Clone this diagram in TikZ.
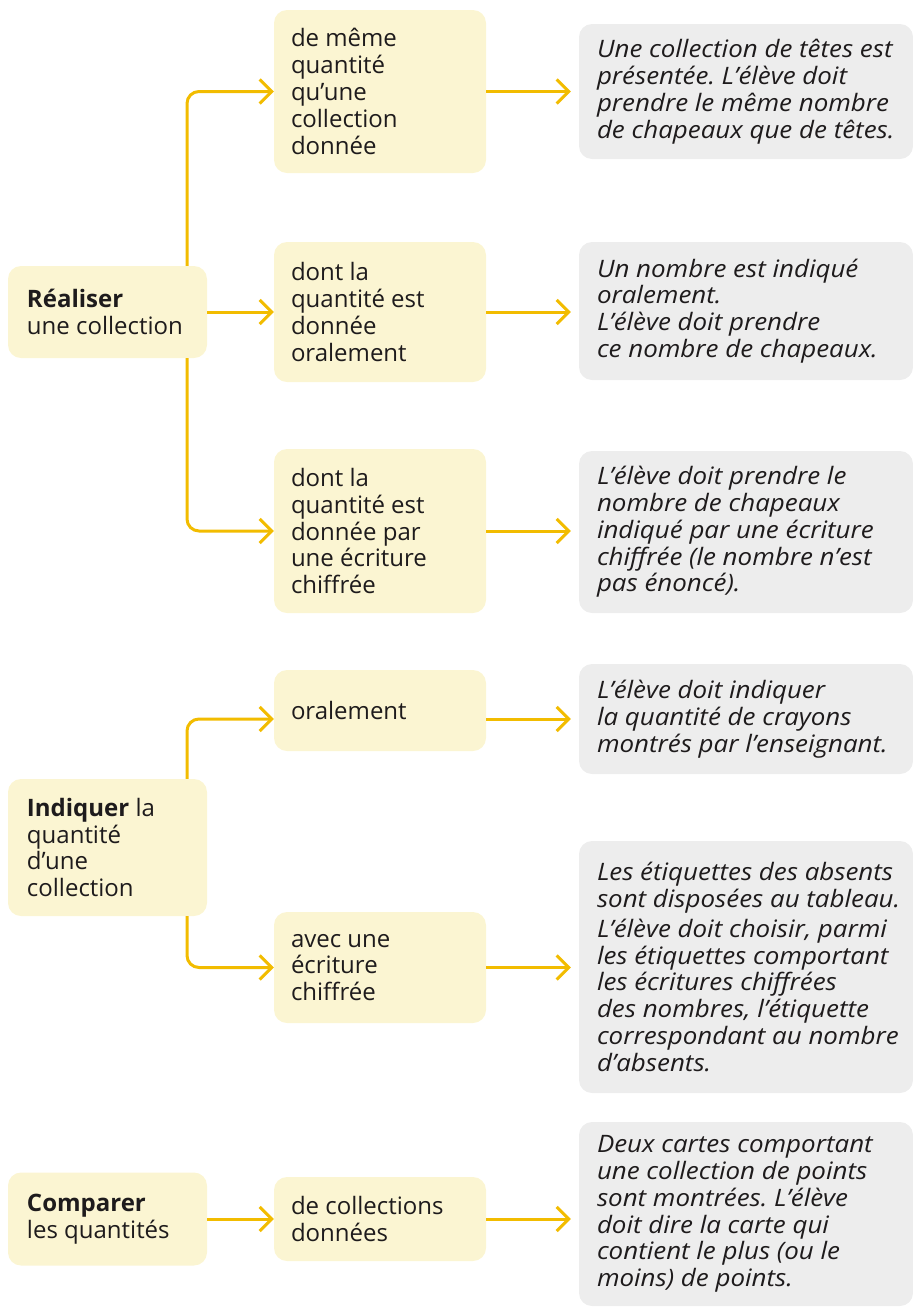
\documentclass[tikz,border=0pt]{standalone}
\usepackage{fontspec}
\setmainfont{Open Sans}[ItalicFeatures={FakeStretch=1.08}]
\frenchspacing
\usetikzlibrary{arrows.meta}
\definecolor{cream}{RGB}{251,245,210}
\definecolor{lgray}{RGB}{237,237,237}
\definecolor{gold}{RGB}{242,188,0}
\definecolor{ink}{RGB}{30,27,28}
\begin{document}
\begin{tikzpicture}[x=1pt,y=-1pt,
  ybox/.style={fill=cream, rounded corners=13pt, inner sep=0pt},
  gbox/.style={fill=lgray, rounded corners=13pt, inner sep=0pt},
  txt/.style={anchor=west, align=left, inner sep=0pt, text=ink, font=\fontsize{24}{26.8}\selectfont},
  itxt/.style={txt, font=\fontsize{24}{26.8}\selectfont\itshape},
  conn/.style={draw=gold, line width=3pt, rounded corners=12pt, -{Straight Barb[length=12pt,width=24pt]}},
]
\useasboundingbox (0,0) rectangle (913,1310);

% boxes
\node[ybox, minimum width=199pt, minimum height=92pt] (L1) at (107.5,312) {};
\node[ybox, minimum width=212pt, minimum height=163pt] (M1) at (380,91.5) {};
\node[gbox, minimum width=334pt, minimum height=135pt] (G1) at (746,91.5) {};
\node[ybox, minimum width=212pt, minimum height=140pt] (M2) at (380,312) {};
\node[gbox, minimum width=334pt, minimum height=138pt] (G2) at (746,311) {};
\node[ybox, minimum width=212pt, minimum height=164pt] (M3) at (380,531) {};
\node[gbox, minimum width=334pt, minimum height=162pt] (G3) at (746,532) {};
\node[ybox, minimum width=212pt, minimum height=81pt] (M4) at (380,710.5) {};
\node[gbox, minimum width=334pt, minimum height=110pt] (G4) at (746,719) {};
\node[ybox, minimum width=199pt, minimum height=137pt] (L2) at (107.5,847.5) {};
\node[ybox, minimum width=212pt, minimum height=111pt] (M5) at (380,967.5) {};
\node[gbox, minimum width=334pt, minimum height=252pt] (G5) at (746,967) {};
\node[ybox, minimum width=199pt, minimum height=93pt] (L3) at (107.5,1219) {};
\node[ybox, minimum width=212pt, minimum height=84pt] (M6) at (380,1219) {};
\node[gbox, minimum width=334pt, minimum height=184pt] (G6) at (746,1214) {};

% texts
\node[txt] (tL1) at ([xshift=19pt]L1.west) {\textbf{Réaliser}\\une collection};
\node[txt] (tM1) at ([xshift=17pt]M1.west) {de même\\quantité\\qu’une\\collection\\donnée};
\node[itxt] (tG1) at ([xshift=18pt]G1.west) {Une collection de têtes est\\présentée. L’élève doit\\prendre le même nombre\\de chapeaux que de têtes.};
\node[txt] (tM2) at ([xshift=17pt]M2.west) {dont la\\quantité est\\donnée\\oralement};
\node[itxt] (tG2) at ([xshift=18pt]G2.west) {Un nombre est indiqué\\oralement.\\L’élève doit prendre\\ce nombre de chapeaux.};
\node[txt] (tM3) at ([xshift=17pt]M3.west) {dont la\\quantité est\\donnée par\\une écriture\\chiffrée};
\node[itxt] (tG3) at ([xshift=18pt]G3.west) {L’élève doit prendre le\\nombre de chapeaux\\indiqué par une écriture\\chiffrée (le nombre n’est\\pas énoncé).};
\node[txt] (tM4) at ([xshift=17pt]M4.west) {oralement};
\node[itxt] (tG4) at ([xshift=18pt]G4.west) {L’élève doit indiquer\\la quantité de crayons\\montrés par l’enseignant.};
\node[txt] (tL2) at ([xshift=19pt]L2.west) {\textbf{Indiquer} la\\quantité\\d’une\\collection};
\node[txt] (tM5) at ([xshift=17pt]M5.west) {avec une\\écriture\\chiffrée};
\node[itxt] (tG5) at ([xshift=18pt]G5.west) {Les étiquettes des absents\\sont disposées au tableau.\\[3pt]L’élève doit choisir, parmi\\les étiquettes comportant\\les écritures chiffrées\\des nombres, l’étiquette\\correspondant au nombre\\d’absents.};
\node[txt] (tL3) at ([xshift=19pt]L3.west) {\textbf{Comparer}\\les quantités};
\node[txt] (tM6) at ([xshift=17pt]M6.west) {de collections\\données};
\node[itxt] (tG6) at ([xshift=18pt]G6.west) {Deux cartes comportant\\une collection de points\\sont montrées. L’élève\\doit dire la carte qui\\contient le plus (ou le\\moins) de points.};

% connectors
\coordinate (bus) at (187,0);
\draw[conn] (L1.north -| bus) |- (M1.west);
\draw[conn] (L1.south -| bus) |- (M3.west);
\draw[conn] (L1.east) -- (L1.east -| M2.west);
\draw[conn, shorten >=8pt] (M1.east) -- (M1.east -| G1.west);
\draw[conn, shorten >=8pt] (M2.east) -- (M2.east -| G2.west);
\draw[conn, shorten >=8pt] (M3.east) -- (M3.east -| G3.west);

\draw[conn] (L2.north -| bus) |- (M4.west |- G4.west);
\draw[conn] (L2.south -| bus) |- (M5.west);
\draw[conn, shorten >=8pt] (M4.east |- G4.west) -- (G4.west);
\draw[conn, shorten >=8pt] (M5.east) -- (M5.east -| G5.west);

\draw[conn] (L3.east) -- (M6.west);
\draw[conn, shorten >=8pt] (M6.east) -- (M6.east -| G6.west);
\end{tikzpicture}
\end{document}
